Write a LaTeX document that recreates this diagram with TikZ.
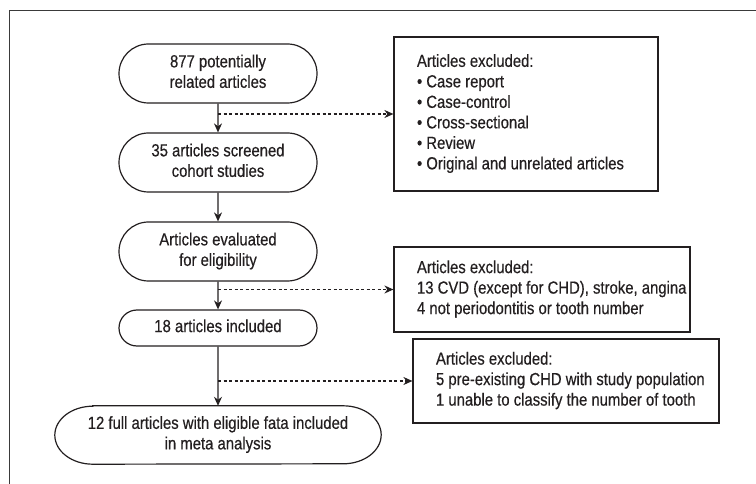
\documentclass[tikz,border=0pt]{standalone}
\usepackage{fontspec}
\usepackage{graphicx}
\setmainfont{Liberation Sans}[FakeBold=0.5]
\usetikzlibrary{arrows.meta,shapes.misc}
\definecolor{ink}{HTML}{231F20}
\definecolor{frame}{HTML}{3A3A3A}
\newcommand\narc[1]{\scalebox{0.85}[1]{\begin{tabular}{@{}c@{}}#1\end{tabular}}}
\newcommand\narl[1]{\scalebox{0.85}[1]{\begin{tabular}{@{}l@{}}#1\end{tabular}}}
\begin{document}
\begin{tikzpicture}[x=1pt,y=-1pt,
  every node/.style={text=ink,font=\fontsize{17.5}{20.5}\selectfont},
  stadium/.style={draw=ink,line width=1.2pt,rounded rectangle,minimum width=198pt,inner sep=0pt},
  exbox/.style={draw=ink,line width=1.2pt,rectangle,inner xsep=23pt,inner ysep=0pt},
  flow/.style={draw=ink,line width=1.2pt,-{Stealth[length=9pt,width=8pt]}},
  side/.style={draw=ink,line width=1.1pt,dashed,dash pattern=on 3pt off 2.5pt,-{Stealth[length=9pt,width=8pt]}}]
\useasboundingbox (0,0) rectangle (756,484);
\draw[frame,line width=1pt] (9,484) -- (9,11) -- (756,11);
\node[stadium,minimum height=59pt] (n1) at (218,73.5) {\narc{877 potentially\\related articles}};
\node[stadium,minimum height=59pt] (n2) at (218,162.5) {\narc{35 articles screened\\cohort studies}};
\node[stadium,minimum height=59pt] (n3) at (218,251.5) {\narc{Articles evaluated\\for eligibility}};
\node[stadium,minimum height=36pt] (n4) at (218,328) {\narc{18 articles included}};
\node[minimum width=326pt,minimum height=58pt,inner sep=0pt] (n5) at (218,435) {\narc{12 full articles with eligible fata included\\in meta analysis}};
\draw[ink,line width=1.2pt] ([xshift=38pt]n5.north west) -- ([xshift=-38pt]n5.north east)
  arc[start angle=90,end angle=-90,x radius=38pt,y radius=29pt]
  -- ([xshift=38pt]n5.south west)
  arc[start angle=270,end angle=90,x radius=38pt,y radius=29pt] -- cycle;
\node[exbox,minimum width=264pt,minimum height=154pt] (b1) at (526,114) {\makebox[218pt][l]{\narl{Articles excluded:\\• Case report\\• Case-control\\• Cross-sectional\\• Review\\• Original and unrelated articles}}};
\node[exbox,minimum width=296pt,minimum height=85pt] (b2) at (542,289.5) {\makebox[250pt][l]{\narl{Articles excluded:\\13 CVD (except for CHD), stroke, angina\\4 not periodontitis or tooth number}}};
\node[exbox,minimum width=306pt,minimum height=84pt] (b3) at (566,381) {\makebox[260pt][l]{\narl{Articles excluded:\\5 pre-existing CHD with study population\\1 unable to classify the number of tooth}}};
\draw[flow] (n1) -- (n2);
\draw[flow] (n2) -- (n3);
\draw[flow] (n3) -- (n4);
\draw[flow] (n4) -- (n5);
\draw[side] (n1.south |- b1.west) -- (b1.west);
\draw[side] (n3.south |- b2.west) -- (b2.west);
\draw[side] (n4.south |- b3.west) -- (b3.west);
\end{tikzpicture}
\end{document}
